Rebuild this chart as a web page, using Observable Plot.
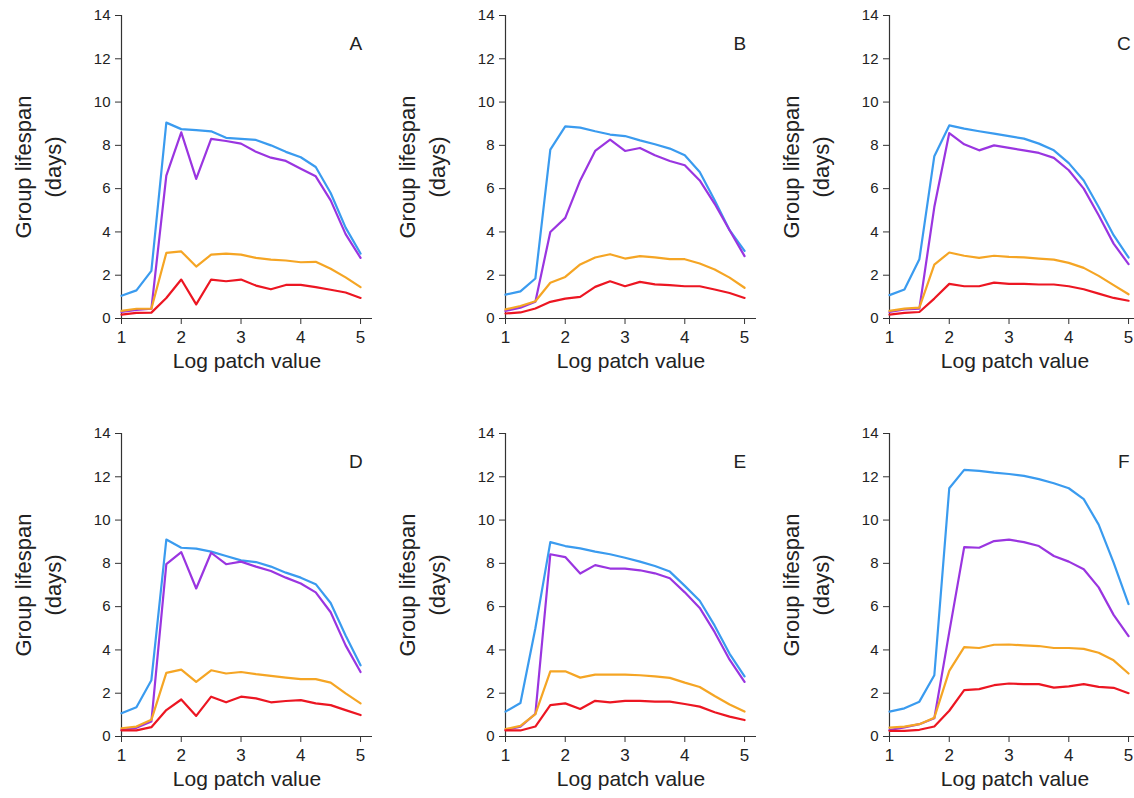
<!DOCTYPE html>
<html>
<head>
<meta charset="utf-8">
<script src="https://cdn.jsdelivr.net/npm/d3@7"></script>
<script src="https://cdn.jsdelivr.net/npm/@observablehq/plot@0.6"></script>
<style>
  html, body { margin: 0; padding: 0; background: #fff; overflow: hidden; }
  #wrap { position: relative; width: 1134px; height: 798px; overflow: hidden; font-family: "Liberation Sans", Arial, sans-serif; }
  .panel { position: absolute; width: 384px; height: 378px; }
  .panel svg { max-width: none !important; }
</style>
</head>
<body>
<div id="wrap"></div>
<script>
// ---- data ----
const xValues = [1, 1.25, 1.5, 1.75, 2, 2.25, 2.5, 2.75, 3, 3.25, 3.5, 3.75, 4, 4.25, 4.5, 4.75, 5];
const xTicks = [1, 2, 3, 4, 5];
const yTicks = [0, 2, 4, 6, 8, 10, 12, 14];
const panelLetters = ["A", "B", "C", "D", "E", "F"];
const seriesNames = ["blue", "purple", "orange", "red"];
const seriesColors = ["#3a9bef", "#9a35e0", "#f5a524", "#ec1622"];
const xLabel = "Log patch value";
const yLabel = "Group lifespan\n(days)";

const A_blue   = [1.05, 1.3, 2.2, 9.05, 8.75, 8.7, 8.65, 8.35, 8.3, 8.25, 8.0, 7.7, 7.45, 7.0, 5.8, 4.2, 3.0];
const A_purple = [0.3, 0.4, 0.45, 6.6, 8.6, 6.45, 8.3, 8.2, 8.08, 7.7, 7.43, 7.28, 6.92, 6.57, 5.46, 3.9, 2.8];
const A_orange = [0.35, 0.45, 0.45, 3.03, 3.1, 2.4, 2.95, 3.0, 2.95, 2.8, 2.72, 2.68, 2.6, 2.62, 2.3, 1.9, 1.45];
const A_red    = [0.18, 0.26, 0.27, 0.95, 1.8, 0.65, 1.8, 1.72, 1.8, 1.52, 1.35, 1.55, 1.55, 1.45, 1.33, 1.2, 0.95];

const B_blue   = [1.1, 1.25, 1.85, 7.8, 8.88, 8.82, 8.65, 8.5, 8.43, 8.23, 8.05, 7.85, 7.54, 6.77, 5.46, 4.08, 3.12];
const B_purple = [0.35, 0.5, 0.77, 4.0, 4.65, 6.38, 7.74, 8.26, 7.74, 7.88, 7.54, 7.28, 7.08, 6.38, 5.3, 4.08, 2.88];
const B_orange = [0.42, 0.58, 0.8, 1.65, 1.92, 2.5, 2.82, 2.97, 2.77, 2.88, 2.82, 2.74, 2.74, 2.54, 2.26, 1.89, 1.42];
const B_red    = [0.23, 0.28, 0.46, 0.77, 0.92, 1.0, 1.46, 1.72, 1.49, 1.69, 1.58, 1.54, 1.49, 1.49, 1.34, 1.18, 0.95];

const C_blue   = [1.08, 1.34, 2.74, 7.5, 8.92, 8.77, 8.65, 8.54, 8.43, 8.31, 8.08, 7.77, 7.18, 6.38, 5.15, 3.85, 2.82];
const C_purple = [0.3, 0.42, 0.46, 5.15, 8.57, 8.05, 7.77, 8.0, 7.88, 7.77, 7.65, 7.42, 6.85, 6.0, 4.77, 3.46, 2.51];
const C_orange = [0.35, 0.46, 0.5, 2.49, 3.05, 2.9, 2.8, 2.9, 2.85, 2.82, 2.77, 2.72, 2.57, 2.34, 1.97, 1.54, 1.12];
const C_red    = [0.18, 0.26, 0.3, 0.92, 1.6, 1.49, 1.49, 1.66, 1.6, 1.6, 1.57, 1.57, 1.49, 1.35, 1.15, 0.95, 0.82];

const D_blue   = [1.07, 1.35, 2.6, 9.1, 8.72, 8.68, 8.54, 8.34, 8.14, 8.06, 7.85, 7.57, 7.34, 7.04, 6.17, 4.67, 3.29];
const D_purple = [0.3, 0.4, 0.69, 7.96, 8.52, 6.84, 8.49, 7.96, 8.08, 7.85, 7.65, 7.34, 7.07, 6.66, 5.74, 4.21, 2.98];
const D_orange = [0.38, 0.46, 0.77, 2.94, 3.09, 2.52, 3.06, 2.91, 2.98, 2.88, 2.8, 2.72, 2.65, 2.65, 2.49, 1.99, 1.53];
const D_red    = [0.28, 0.28, 0.43, 1.22, 1.71, 0.95, 1.84, 1.58, 1.84, 1.76, 1.58, 1.64, 1.68, 1.53, 1.45, 1.22, 0.99];

const E_blue   = [1.15, 1.55, 5.0, 8.98, 8.8, 8.69, 8.54, 8.42, 8.26, 8.08, 7.88, 7.62, 6.96, 6.27, 5.12, 3.82, 2.78];
const E_purple = [0.3, 0.45, 1.05, 8.42, 8.29, 7.53, 7.92, 7.76, 7.76, 7.68, 7.54, 7.31, 6.66, 5.94, 4.82, 3.55, 2.52];
const E_orange = [0.34, 0.49, 1.03, 3.01, 3.01, 2.72, 2.86, 2.86, 2.86, 2.83, 2.78, 2.71, 2.49, 2.29, 1.87, 1.48, 1.15];
const E_red    = [0.28, 0.28, 0.46, 1.45, 1.53, 1.27, 1.65, 1.58, 1.65, 1.65, 1.61, 1.61, 1.5, 1.38, 1.12, 0.92, 0.76];

const F_blue   = [1.15, 1.3, 1.61, 2.83, 11.47, 12.32, 12.27, 12.19, 12.13, 12.04, 11.89, 11.7, 11.47, 10.97, 9.79, 8.03, 6.12];
const F_purple = [0.3, 0.42, 0.57, 0.84, 4.82, 8.75, 8.72, 9.03, 9.1, 8.98, 8.8, 8.34, 8.08, 7.73, 6.89, 5.62, 4.64];
const F_orange = [0.41, 0.46, 0.57, 0.87, 3.03, 4.13, 4.09, 4.24, 4.25, 4.21, 4.18, 4.09, 4.09, 4.05, 3.87, 3.52, 2.91];
const F_red    = [0.26, 0.26, 0.31, 0.46, 1.19, 2.14, 2.19, 2.37, 2.45, 2.42, 2.42, 2.26, 2.32, 2.42, 2.29, 2.25, 2.0];

const panelSeries = {
  A: [A_blue, A_purple, A_orange, A_red],
  B: [B_blue, B_purple, B_orange, B_red],
  C: [C_blue, C_purple, C_orange, C_red],
  D: [D_blue, D_purple, D_orange, D_red],
  E: [E_blue, E_purple, E_orange, E_red],
  F: [F_blue, F_purple, F_orange, F_red]
};

// ---- drawing ----
const wrap = document.getElementById("wrap");
const font = "'Liberation Sans', Arial, sans-serif";
const ink = "#222";
const axisInk = "#333";

panelLetters.forEach((letter, i) => {
  const col = i % 3, row = Math.floor(i / 3);
  const rows = [];
  panelSeries[letter].forEach((vals, s) => {
    vals.forEach((v, k) => rows.push({series: seriesNames[s], x: xValues[k], y: v}));
  });
  const marks = [
    Plot.ruleX([1], {stroke: axisInk, strokeWidth: 1.2}),
    Plot.ruleY([0], {stroke: axisInk, strokeWidth: 1.2}),
    Plot.axisY({ticks: yTicks, tickFormat: d => String(d), tickSize: 6, tickPadding: 5, fontSize: 15, label: null, stroke: axisInk, fill: ink}),
    Plot.axisX({ticks: xTicks, tickFormat: d => String(d), tickSize: 6, tickPadding: 6, fontSize: 17, label: null, stroke: axisInk, fill: ink}),
    ...seriesNames.map((name, s) =>
      Plot.line(rows.filter(d => d.series === name), {x: "x", y: "y", stroke: seriesColors[s], strokeWidth: 2.2})
    ),
    Plot.text([letter], {x: 4.92, y: 12.7, text: d => d, fontSize: 19, fill: ink}),
    Plot.text([xLabel], {frameAnchor: "bottom", dy: 43, lineAnchor: "middle", text: d => d, fontSize: 21, fill: ink}),
    Plot.text([yLabel], {frameAnchor: "left", dx: -85, rotate: -90, textAnchor: "middle", lineAnchor: "middle", lineHeight: 1.35, text: d => d, fontSize: 22, fill: ink})
  ];
  const chart = Plot.plot({
    width: 384,
    height: 378,
    marginLeft: 121,
    marginRight: 12,
    marginTop: 15,
    marginBottom: 60,
    style: {fontFamily: font, background: "transparent", overflow: "visible", maxWidth: "none"},
    x: {domain: [1, 5.2]},
    y: {domain: [0, 14]},
    marks
  });
  const div = document.createElement("div");
  div.className = "panel";
  div.style.left = (col * 384) + "px";
  div.style.top = (row * 418) + "px";
  div.appendChild(chart);
  wrap.appendChild(div);
});
</script>
</body>
</html>
